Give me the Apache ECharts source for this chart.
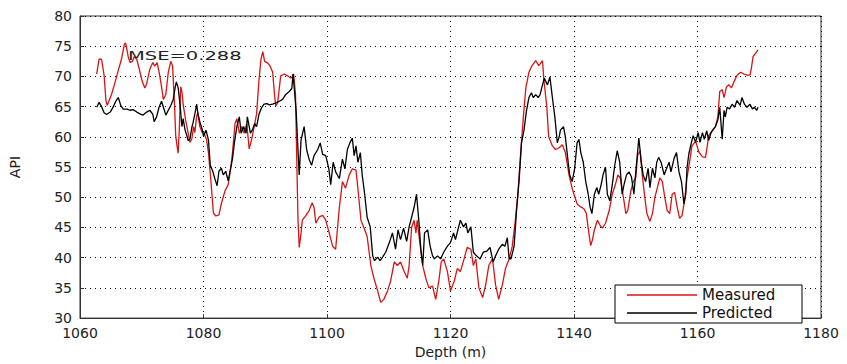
<!DOCTYPE html>
<html>
<head>
<meta charset="utf-8">
<script src="https://cdn.jsdelivr.net/npm/echarts@6/dist/echarts.min.js"></script>
<style>
html,body{margin:0;padding:0;background:#fff;}
#chart{width:847px;height:364px;}
</style>
</head>
<body>
<div id="chart"></div>
<script>
// Axis ticks
var xTicks = {min: 1060, max: 1180, interval: 20};
var yTicks = {min: 30, max: 80, interval: 5};

// Measured (red)
var measuredDepth = [1062.7,1063.1,1063.5,1063.9,1064.2,1064.4,1065.1,1065.7,1066.2,1066.7,1067.2,1067.4,1067.8,1068.1,1068.5,1068.8,1069.2,1069.6,1070.1,1070.5,1070.8,1071.3,1071.8,1072.1,1072.5,1072.9,1073.2,1073.5,1073.9,1074.3,1074.7,1075.0,1075.3,1075.5,1075.7,1075.9,1076.1,1076.3,1076.5,1076.7,1077.1,1077.5,1077.8,1078.1,1078.4,1078.6,1078.9,1079.1,1079.4,1079.8,1080.1,1080.5,1080.8,1081.2,1081.6,1082.0,1082.5,1082.9,1083.5,1084.0,1084.4,1084.7,1085.1,1085.4,1085.8,1086.2,1086.6,1087.0,1087.4,1087.8,1088.2,1088.6,1089.0,1089.3,1089.6,1089.9,1090.4,1090.8,1091.2,1091.5,1091.7,1092.0,1092.5,1093.1,1093.6,1094.2,1094.6,1094.9,1095.1,1095.3,1095.5,1095.8,1096.0,1096.6,1097.1,1097.6,1097.9,1098.2,1098.7,1099.3,1099.8,1100.3,1100.9,1101.4,1102.0,1102.5,1103.0,1103.6,1104.1,1104.7,1105.0,1105.5,1106.0,1106.5,1107.1,1107.6,1108.2,1108.7,1109.2,1109.8,1110.3,1110.9,1111.4,1111.9,1112.5,1113.0,1113.3,1113.7,1114.1,1114.4,1114.6,1115.1,1115.5,1116.0,1116.5,1117.1,1117.6,1118.1,1118.5,1118.9,1119.5,1120.0,1120.6,1121.1,1121.6,1122.2,1122.7,1123.3,1123.7,1124.1,1124.6,1125.2,1125.7,1126.2,1126.8,1127.3,1127.8,1128.4,1128.9,1129.5,1130.0,1130.5,1130.9,1131.4,1131.8,1132.2,1132.7,1133.2,1133.8,1134.3,1134.9,1135.1,1135.6,1135.9,1136.5,1137.0,1137.6,1138.1,1138.6,1139.2,1139.7,1140.0,1140.5,1141.1,1141.6,1142.0,1142.4,1142.7,1143.0,1143.3,1143.8,1144.2,1144.6,1145.1,1145.7,1146.2,1146.7,1147.1,1147.5,1148.0,1148.4,1148.7,1149.2,1149.6,1150.0,1150.3,1150.7,1151.0,1151.4,1151.8,1152.3,1152.7,1153.1,1153.5,1153.9,1154.3,1154.7,1155.1,1155.5,1155.9,1156.3,1156.7,1157.1,1157.5,1157.9,1158.3,1158.8,1159.1,1159.7,1160.2,1160.8,1161.3,1161.6,1161.8,1162.4,1162.9,1163.3,1163.6,1164.0,1164.3,1164.7,1165.1,1165.5,1165.9,1166.4,1167.0,1167.5,1168.0,1168.5,1168.7,1169.0,1169.4,1169.8];
var measuredApi = [70.4,72.9,72.8,70.2,66,65.2,67,69.1,71,72.8,75.4,75.5,73.3,72.3,72.5,73.3,72.8,71.2,69.1,68.1,68.8,71.2,72.3,71.7,72.3,70.2,68.3,66.2,67,70.7,72.5,71.7,65.4,60.2,58.6,57.3,61.7,68.3,67.5,65.4,62.8,60.7,59.1,59.6,61.7,60.7,63.5,64.0,61.7,60.7,60.6,59.5,57.4,52.7,47.4,46.9,47.1,49,51.1,52.1,54.8,57.4,62.2,63,60.6,61.7,60.6,62.2,58,59.6,61.7,63.8,69.6,72.8,74.1,72.5,72.2,71.7,70.7,67,65.1,65.6,70.1,70.4,70.1,69.7,70.4,67,56.4,46.3,41.7,44.1,46.2,47,47.8,49.1,48.3,45.7,46.7,47,46.2,44.3,41.9,41.4,48.3,52.6,51.5,53.7,54.7,54.5,51.5,46.2,44.9,43.5,38.7,36.6,34.5,32.6,33.1,34.5,36.1,39.3,38.7,39.3,37.7,36.6,38.7,45,46.2,44.1,46.2,41.9,38.7,36.6,35,35.3,33.1,36.1,39.3,39.8,37.7,34.5,36.1,38.2,37.7,39.8,41.7,41.4,38.7,39.8,35,33.4,35.5,38.7,39.8,35.5,33.1,35.5,38.2,39.8,41.9,46.2,50.5,57.9,63.3,68.1,70.7,71.8,72.6,71.8,72.6,69.7,64.9,60,58.5,57.9,58.2,58.7,57.4,53.7,51.5,50.5,48.9,48.4,48.1,47.3,44.1,42,43,44.6,46.2,45.4,44.9,45.7,47.8,50.5,52.1,53.7,53.2,50,47.3,47.8,51,52.6,53.2,56.9,57.7,54.2,50.5,47.3,46,47.3,50,51.6,53.2,52.6,50,47.8,47.3,50.5,50.8,48.4,46.5,47,49.4,53.2,56.4,58.5,59.3,57.5,56.7,56.6,58.6,60.2,61,61.7,63.3,67.5,67.8,66.5,68.3,68.6,68.1,69.1,70.2,70.7,70.4,70.2,70.2,71.2,73.3,73.8,74.4];

// Predicted (black)
var predictedDepth = [1062.7,1063.1,1063.5,1063.9,1064.3,1064.9,1065.4,1065.8,1066.2,1066.6,1067.0,1067.6,1068.1,1068.6,1069.2,1069.7,1070.2,1070.8,1071.3,1071.8,1072.0,1072.4,1072.8,1073.2,1073.6,1073.9,1074.3,1074.7,1075.1,1075.4,1075.6,1075.9,1076.2,1076.5,1076.7,1077.0,1077.3,1077.5,1077.8,1078.1,1078.3,1078.6,1078.9,1079.1,1079.4,1079.8,1080.0,1080.4,1080.8,1081.1,1081.5,1081.8,1082.2,1082.5,1082.9,1083.2,1083.6,1084.0,1084.3,1084.7,1085.0,1085.4,1085.8,1086.1,1086.5,1086.9,1087.1,1087.6,1087.9,1088.3,1088.6,1089.0,1089.4,1089.8,1090.3,1090.6,1091.2,1091.7,1092.3,1092.8,1093.3,1093.9,1094.3,1094.5,1094.7,1095.0,1095.2,1095.5,1095.8,1096.3,1096.7,1097.1,1097.5,1097.9,1098.5,1098.9,1099.3,1099.8,1100.3,1100.6,1101.0,1101.4,1102.0,1102.5,1102.9,1103.3,1103.7,1104.1,1104.4,1104.7,1105.0,1105.4,1105.7,1106.1,1106.5,1107.0,1107.4,1107.7,1108.2,1108.6,1109.0,1109.5,1110.1,1110.6,1111.1,1111.5,1111.9,1112.4,1112.9,1113.3,1113.7,1114.1,1114.5,1114.9,1115.2,1115.5,1115.8,1116.3,1116.7,1117.1,1117.4,1117.9,1118.4,1118.9,1119.5,1120.0,1120.5,1120.8,1121.2,1121.6,1122.1,1122.5,1122.8,1123.3,1123.7,1124.2,1124.8,1125.3,1125.9,1126.4,1126.9,1127.3,1127.8,1128.4,1128.8,1129.2,1129.5,1129.8,1130.3,1130.7,1131.1,1131.5,1131.9,1132.3,1132.7,1133.1,1133.4,1133.8,1134.2,1134.5,1134.9,1135.2,1135.7,1136.1,1136.5,1136.9,1137.3,1137.6,1137.8,1138.3,1138.6,1139.0,1139.3,1139.7,1140.1,1140.5,1140.8,1141.1,1141.5,1141.9,1142.3,1142.6,1142.9,1143.3,1143.7,1144.0,1144.4,1144.7,1145.1,1145.4,1145.8,1146.2,1146.6,1147.0,1147.4,1147.8,1148.1,1148.5,1148.9,1149.3,1149.7,1150.1,1150.5,1150.9,1151.2,1151.6,1152.0,1152.3,1152.7,1153.1,1153.4,1153.7,1154.1,1154.6,1155.0,1155.4,1155.7,1156.2,1156.6,1157.0,1157.4,1157.8,1158.1,1158.3,1158.6,1159.0,1159.3,1159.7,1160.1,1160.4,1160.8,1161.1,1161.5,1161.8,1162.2,1162.5,1162.9,1163.3,1163.6,1163.8,1164.0,1164.3,1164.5,1164.8,1165.2,1165.6,1166.0,1166.4,1166.9,1167.2,1167.6,1168.0,1168.5,1168.9,1169.2,1169.6,1169.8];
var predictedApi = [64.9,65.7,65,64,63.7,64.1,65,65.9,66.5,65.2,64.6,64.6,64.4,64.5,64.1,63.8,63.6,64.1,64.4,63.7,62.5,63.3,64.9,65.9,64.6,63.6,64.4,65.2,66.2,68.1,69.1,68.1,65.4,61.7,63,61.2,60.2,59.4,59.6,61.5,62.3,63.8,65.4,63.8,62.5,61.2,60.1,61.1,59.5,55.3,54.3,53.2,51.9,54.3,54.8,53.7,54.3,52.7,54.3,56.4,59,61.7,63.3,60.6,61.7,60.6,63.3,60.6,61.1,62.2,61.7,63.8,64.8,65.4,65.5,65.3,65.4,65.6,65.9,66.2,67,67.5,68,70.4,68,64.3,60,53.7,59.5,61.7,57.9,56.3,55.3,56.9,57.9,59,57.1,56.9,54.7,52.1,55.8,54.2,53.1,56.3,54.7,57.9,59,59.8,56.9,58.5,55.8,57.4,53.7,50.5,46.7,45.1,40.3,39.5,40.1,39.5,40.1,40.9,42.5,44.1,41.4,44.6,43,44.9,42.7,45.1,46.7,48.3,50.5,45.7,41.4,38.7,44.1,44.6,41.9,40.3,39.8,40.3,39.8,40.9,41.9,42.5,44.1,43,44.6,46.2,45.1,45.7,44.1,45.1,40.9,40.3,39.8,40.9,41.1,41.7,39.3,40.3,41.4,42.2,41.9,43.3,39.8,39.8,41.9,47.8,52.6,59,61.1,64.3,66.5,67.3,66.5,67,66.5,67,68.6,69.7,68.6,69.9,66.5,63.3,59,60,61.1,61.7,60,56.3,53.7,52.6,54.7,59,59.6,57.4,55.8,52.6,50.5,48.4,47.3,50.5,51.6,50.5,52.1,53.7,55,50.5,49.4,52.1,55.3,57.7,55.8,50.5,52.1,53.7,54.2,53.4,50.5,55.3,59.8,55.8,53.7,52.6,54.8,51.6,54.8,53.2,55.8,56.6,55.8,53.7,54.8,55.8,54.2,56.4,57.4,54.2,52.6,48.9,50.5,54.8,57.2,59,60.2,59.1,60.7,59.1,60.7,59.6,61,59.4,60.7,61.2,61.7,62.8,64.9,62.3,59.6,64.4,63.3,64.9,64.6,65.4,64.9,66,65.2,66.5,65.4,64.9,65.4,64.6,64.9,64.4,64.9];

var seriesNames = ['Measured', 'Predicted'];
var seriesColors = ['#d81414', '#000000'];
var annotation = 'MSE=0.288';

function pairs(xs, ys) { return xs.map(function (x, i) { return [x, ys[i]]; }); }

var FONT = 'DejaVu Sans';
var gridLine = {show: true, lineStyle: {color: '#000', width: 1, type: [1, 4]}};
var chart = echarts.init(document.getElementById('chart'), null, {renderer: 'svg'});
chart.setOption({
  animation: false,
  backgroundColor: '#ffffff',
  grid: {left: 79, right: 26, top: 16, bottom: 36, show: true, borderColor: '#333', borderWidth: 1},
  xAxis: {
    type: 'value', min: xTicks.min, max: xTicks.max, interval: xTicks.interval,
    name: 'Depth (m)', nameLocation: 'middle', nameGap: 21,
    nameTextStyle: {fontFamily: FONT, fontSize: 14, color: '#222'},
    axisLine: {show: true, onZero: false, lineStyle: {color: '#333', width: 1}},
    axisTick: {show: true, inside: true, length: 4, lineStyle: {color: '#333'}},
    axisLabel: {fontFamily: FONT, fontSize: 14, color: '#222', margin: 8,
      formatter: function (v) { return String(v); }},
    splitLine: gridLine
  },
  yAxis: {
    type: 'value', min: yTicks.min, max: yTicks.max, interval: yTicks.interval,
    name: 'API', nameLocation: 'middle', nameGap: 58, nameRotate: 90,
    nameTextStyle: {fontFamily: FONT, fontSize: 14, color: '#222'},
    axisLine: {show: true, onZero: false, lineStyle: {color: '#333', width: 1}},
    axisTick: {show: true, inside: true, length: 4, lineStyle: {color: '#333'}},
    axisLabel: {fontFamily: FONT, fontSize: 14, color: '#222', margin: 8},
    splitLine: gridLine
  },
  legend: {
    orient: 'vertical', left: 615, top: 285,
    backgroundColor: '#ffffff', borderColor: '#000', borderWidth: 1,
    padding: [1, 8, 1, 12], itemGap: 0, itemWidth: 70, itemHeight: 1.4,
    icon: 'rect',
    textStyle: {fontFamily: FONT, fontSize: 15, color: '#111', width: 92, lineHeight: 18},
    data: seriesNames.map(function (n, i) { return {name: n, itemStyle: {color: seriesColors[i]}}; })
  },
  graphic: [{
    type: 'text', left: 128, top: 49, scaleX: 1.5, z: 10,
    style: {text: annotation, font: '13px "DejaVu Sans"', fill: '#222'}
  }],
  series: [
    {name: seriesNames[0], type: 'line', symbol: 'none', data: pairs(measuredDepth, measuredApi),
     lineStyle: {color: seriesColors[0], width: 1.3}, itemStyle: {color: seriesColors[0]}, z: 2},
    {name: seriesNames[1], type: 'line', symbol: 'none', data: pairs(predictedDepth, predictedApi),
     lineStyle: {color: seriesColors[1], width: 1.3}, itemStyle: {color: seriesColors[1]}, z: 3}
  ]
});
</script>
</body>
</html>
